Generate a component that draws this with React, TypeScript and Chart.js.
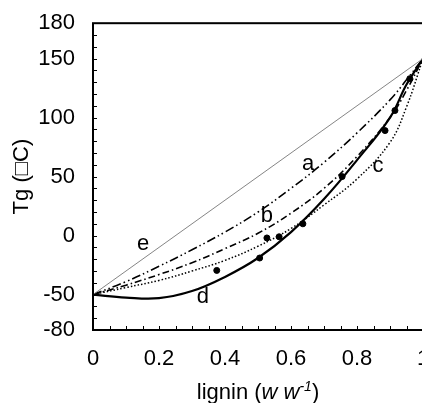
import React, { useEffect, useRef } from "react";
import { Chart, registerables } from "chart.js";

Chart.register(...registerables);

const xTicks = [0, 0.2, 0.4, 0.6, 0.8, 1];
const yTicks = [-80, -50, 0, 50, 100, 150, 180];

const curveX = [0, 0.1, 0.2, 0.3, 0.4, 0.5, 0.6, 0.7, 0.8, 0.9, 0.95, 1];
const curveA = [-50, -39, -26, -12, 3, 20, 40, 62, 87, 115, 132, 150];
const curveB = [-50, -42, -33, -23, -11, 2, 19, 40, 67, 100, 123, 150];
const curveC = [-50, -44, -38, -30, -21, -9, 6, 26, 48, 79, 109, 150];
const curveD = [-50, -52.5, -53, -47, -35, -19, 3, 31, 64, 100, 128, 150];
const curveEX = [0, 1];
const curveE = [-50, 150];

const pointsX = [0.375, 0.505, 0.527, 0.564, 0.636, 0.755, 0.885, 0.915, 0.96];
const pointsY = [-29.5, -19, -2, -1, 10, 50, 89, 106, 133];

const labelText = ["a", "b", "c", "d", "e"];
const labelX = [0.652, 0.527, 0.864, 0.333, 0.152];
const labelY = [61, 17, 59, -52, -7];

const FONT = '"Liberation Sans", Arial, sans-serif';

const pts = (xs: number[], ys: number[]) => xs.map((x, i) => ({ x, y: ys[i] }));

const decor = {
  id: "decor",
  afterDraw(chart: any) {
    const { ctx, chartArea: ca, scales } = chart;
    const xs = scales.x;
    const ys = scales.y;
    ctx.save();
    ctx.strokeStyle = "#000";
    ctx.lineWidth = 2;
    ctx.strokeRect(ca.left, ca.top, ca.right - ca.left, ca.bottom - ca.top);
    ctx.lineWidth = 1;
    for (let v = -80; v <= 180; v += 10) {
      const y = Math.round(ys.getPixelForValue(v)) + 0.5;
      ctx.beginPath();
      ctx.moveTo(ca.left, y);
      ctx.lineTo(ca.left + 4, y);
      ctx.stroke();
    }
    for (let i = 0; i <= 20; i++) {
      const x = Math.round(xs.getPixelForValue(i * 0.05)) + 0.5;
      ctx.beginPath();
      ctx.moveTo(x, ca.bottom);
      ctx.lineTo(x, ca.bottom - 4);
      ctx.stroke();
    }
    ctx.fillStyle = "#000";
    ctx.font = `22px ${FONT}`;
    ctx.textAlign = "center";
    ctx.textBaseline = "middle";
    labelText.forEach((t, i) => {
      ctx.fillText(t, xs.getPixelForValue(labelX[i]), ys.getPixelForValue(labelY[i]));
    });
    ctx.save();
    ctx.translate(22, (ca.top + ca.bottom) / 2);
    ctx.rotate(-Math.PI / 2);
    ctx.fillText("Tg (□C)", 0, 0);
    ctx.restore();
    const parts = [
      { t: "lignin (", f: `22px ${FONT}`, dy: 0 },
      { t: "w w", f: `italic 22px ${FONT}`, dy: 0 },
      { t: "-1", f: `italic 14px ${FONT}`, dy: -8 },
      { t: ")", f: `22px ${FONT}`, dy: 0 },
    ];
    let total = 0;
    parts.forEach((p) => {
      ctx.font = p.f;
      total += ctx.measureText(p.t).width;
    });
    let cx = (ca.left + ca.right) / 2 - total / 2;
    ctx.textAlign = "left";
    ctx.textBaseline = "alphabetic";
    parts.forEach((p) => {
      ctx.font = p.f;
      ctx.fillText(p.t, cx, 399 + p.dy);
      cx += ctx.measureText(p.t).width;
    });
    ctx.restore();
  },
};

export default function App() {
  const ref = useRef<HTMLCanvasElement>(null);
  useEffect(() => {
    document.body.style.margin = "0";
    document.body.style.overflow = "hidden";
    const chart = new Chart(ref.current as HTMLCanvasElement, {
      type: "line",
      data: {
        datasets: [
          {
            data: pts(curveEX, curveE),
            borderColor: "#777",
            borderWidth: 0.9,
            pointRadius: 0,
          },
          {
            data: pts(curveX, curveA),
            borderColor: "#000",
            borderWidth: 1.6,
            borderDash: [9, 3, 1.5, 3, 1.5, 3],
            pointRadius: 0,
            tension: 0.4,
          },
          {
            data: pts(curveX, curveB),
            borderColor: "#000",
            borderWidth: 1.6,
            borderDash: [7, 3, 1.5, 3],
            pointRadius: 0,
            tension: 0.4,
          },
          {
            data: pts(curveX, curveC),
            borderColor: "#000",
            borderWidth: 1.5,
            borderDash: [1.5, 2],
            pointRadius: 0,
            tension: 0.4,
          },
          {
            data: pts(curveX, curveD),
            borderColor: "#000",
            borderWidth: 2.2,
            pointRadius: 0,
            tension: 0.4,
          },
          {
            type: "scatter",
            data: pts(pointsX, pointsY),
            backgroundColor: "#000",
            borderColor: "#000",
            pointRadius: 3,
          } as any,
        ],
      },
      options: {
        animation: false,
        responsive: false,
        layout: { padding: { top: 22, right: 27, left: 0, bottom: 0 } },
        plugins: { legend: { display: false }, tooltip: { enabled: false } },
        scales: {
          x: {
            type: "linear",
            min: 0,
            max: 1,
            grid: { display: false },
            border: { display: false },
            afterBuildTicks: (s: any) => {
              s.ticks = xTicks.map((v) => ({ value: v }));
            },
            afterFit: (s: any) => {
              s.height = 73;
            },
            ticks: {
              color: "#000",
              padding: 8,
              maxRotation: 0,
              font: { size: 22, family: FONT },
              callback: (v: any) => String(v),
            },
          },
          y: {
            type: "linear",
            min: -80,
            max: 180,
            grid: { display: false },
            border: { display: false },
            afterBuildTicks: (s: any) => {
              s.ticks = yTicks.map((v) => ({ value: v }));
            },
            afterFit: (s: any) => {
              s.width = 93;
            },
            ticks: {
              color: "#000",
              padding: 10,
              font: { size: 22, family: FONT },
              callback: (v: any) => String(v),
            },
          },
        },
      },
      plugins: [decor],
    } as any);
    return () => chart.destroy();
  }, []);
  return (
    <div style={{ position: "fixed", left: 0, top: 0, width: 450, height: 403 }}>
      <canvas ref={ref} width={450} height={403} style={{ width: 450, height: 403 }} />
    </div>
  );
}
